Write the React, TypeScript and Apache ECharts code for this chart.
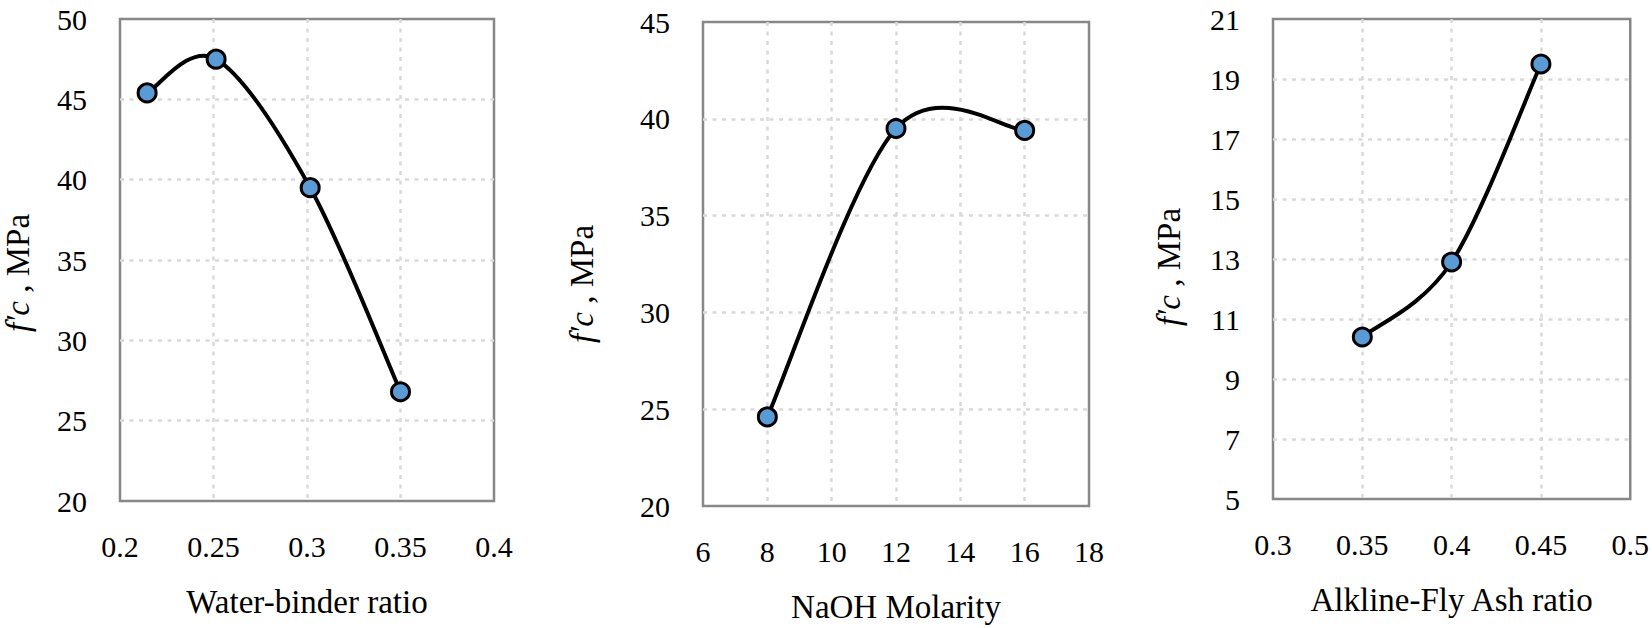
import React, { useEffect, useRef } from "react";
import * as echarts from "echarts";

const wbRatio = [0.2145, 0.2514, 0.3017, 0.35];
const wbStrength = [45.4, 47.5, 39.5, 26.8];

const naohMolarity = [8, 12, 16];
const naohStrength = [24.6, 39.5, 39.4];

const afaRatio = [0.35, 0.4, 0.45];
const afaStrength = [10.4, 12.9, 19.5];

const xTitles = ["Water-binder ratio", "NaOH Molarity", "Alkline-Fly Ash ratio"];
const xRanges = [
  { min: 0.2, max: 0.4, interval: 0.05 },
  { min: 6, max: 18, interval: 2 },
  { min: 0.3, max: 0.5, interval: 0.05 },
];
const yRanges = [
  { min: 20, max: 50, interval: 5 },
  { min: 20, max: 45, interval: 5 },
  { min: 5, max: 21, interval: 2 },
];

const FONT = "Liberation Serif";

export default function App() {
  const ref = useRef<HTMLDivElement>(null);
  useEffect(() => {
    if (!ref.current) return;
    const chart = echarts.init(ref.current, undefined, { renderer: "svg" });
    const grids = [
      { left: 119, top: 19, width: 375, height: 482 },
      { left: 703, top: 22, width: 386, height: 486 },
      { left: 1273, top: 19, width: 360, height: 480 },
    ];
    const yGaps = [86, 105, 88];
    const yShift = [26, 40, 16];
    const xs = [wbRatio, naohMolarity, afaRatio];
    const ys = [wbStrength, naohStrength, afaStrength];
    const datasets = xs.map((arr, k) => arr.map((x, i) => [x, ys[k][i]]));
    const splitLine = {
      show: true,
      showMinLine: false,
      showMaxLine: false,
      lineStyle: { color: "#d9d9d9", width: 2.5, type: [4, 5.5] as any },
    };
    const curveSeries = datasets.map((d, k) => ({
      type: "custom",
      xAxisIndex: k,
      yAxisIndex: k,
      data: d,
      silent: true,
      z: 2,
      renderItem: (params: any, api: any) => {
        const i = params.dataIndex;
        const n = d.length;
        if (i >= n - 1) return { type: "group", children: [] };
        const P = (j: number) => api.coord(d[Math.max(0, Math.min(n - 1, j))]);
        const p0 = P(i - 1);
        const p1 = P(i);
        const p2 = P(i + 1);
        const p3 = P(i + 2);
        return {
          type: "bezierCurve",
          shape: {
            x1: p1[0],
            y1: p1[1],
            x2: p2[0],
            y2: p2[1],
            cpx1: p1[0] + (p2[0] - p0[0]) / 6,
            cpy1: p1[1] + (p2[1] - p0[1]) / 6,
            cpx2: p2[0] - (p3[0] - p1[0]) / 6,
            cpy2: p2[1] - (p3[1] - p1[1]) / 6,
          },
          style: { stroke: "#000", lineWidth: 4, fill: "none" },
        };
      },
    }));
    const markerSeries = datasets.map((d, k) => ({
      type: "scatter",
      xAxisIndex: k,
      yAxisIndex: k,
      data: d,
      symbol: "circle",
      symbolSize: 18,
      itemStyle: { color: "#5b9bd5", borderColor: "#000", borderWidth: 3, opacity: 1 },
      z: 3,
    }));
    const option: any = {
      animation: false,
      backgroundColor: "#ffffff",
      textStyle: { fontFamily: FONT },
      grid: grids.map((g) => ({
        ...g,
        show: true,
        borderColor: "#878787",
        borderWidth: 2.5,
        backgroundColor: "transparent",
        containLabel: false,
      })),
      xAxis: grids.map((_, i) => ({
        type: "value",
        gridIndex: i,
        min: xRanges[i].min,
        max: xRanges[i].max,
        interval: xRanges[i].interval,
        axisLine: { show: false },
        axisTick: { show: false },
        splitLine,
        axisLabel: {
          margin: 30,
          color: "#000",
          fontFamily: FONT,
          fontSize: 30,
        },
        name: xTitles[i],
        nameLocation: "middle",
        nameGap: 84,
        nameTextStyle: { color: "#000", fontFamily: FONT, fontSize: 33 },
      })),
      yAxis: grids.map((_, i) => ({
        type: "value",
        gridIndex: i,
        min: yRanges[i].min,
        max: yRanges[i].max,
        interval: yRanges[i].interval,
        axisLine: { show: false },
        axisTick: { show: false },
        splitLine,
        axisLabel: {
          margin: 33,
          color: "#000",
          fontFamily: FONT,
          fontSize: 30,
        },
        name: "{i|f′c} , MPa",
        nameLocation: "middle",
        nameRotate: 90,
        nameGap: yGaps[i],
        nameTextStyle: {
          color: "#000",
          fontFamily: FONT,
          fontSize: 33,
          padding: [0, yShift[i], 0, 0],
          rich: {
            i: { fontStyle: "italic", fontFamily: FONT, fontSize: 33, color: "#000" },
          },
        },
      })),
      series: [...curveSeries, ...markerSeries],
    };
    chart.setOption(option);
    return () => chart.dispose();
  }, []);
  return (
    <div
      ref={ref}
      style={{ position: "fixed", left: 0, top: 0, width: 1652, height: 628, background: "#fff" }}
    />
  );
}
